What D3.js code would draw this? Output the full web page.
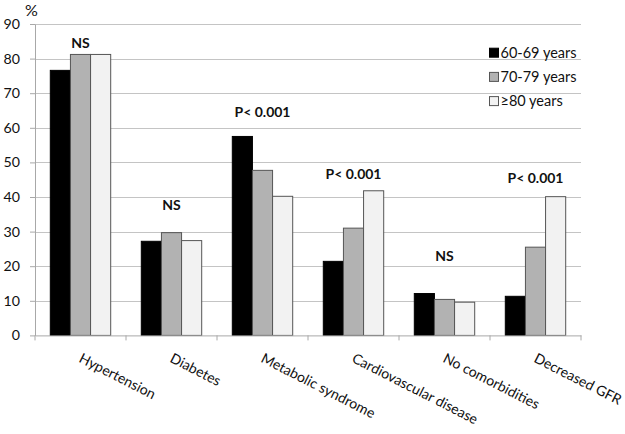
<!DOCTYPE html>
<html><head><meta charset="utf-8">
<script src="https://cdn.jsdelivr.net/npm/d3@7"></script>
<style>body{margin:0;background:#fff}svg{display:block}text{font-family:Lato,"Open Sans",sans-serif}</style>
</head><body><svg id="c" width="625" height="434"></svg>
<script>
const categories = ["Hypertension","Diabetes","Metabolic syndrome","Cardiovascular disease","No comorbidities","Decreased GFR"];
const seriesNames = ["60-69 years","70-79 years","\u226580 years"];
const s6069 = [76.6, 27.2, 57.5, 21.4, 12.1, 11.3];
const s7079 = [81.2, 29.7, 47.7, 31.0, 10.4, 25.5];
const s80 = [81.2, 27.4, 40.2, 41.8, 9.6, 40.1];
const annotations = ["NS","NS","P< 0.001","P< 0.001","NS","P< 0.001"];
const annotationY = [83.0, 36.2, 63.0, 45.2, 21.6, 44.0];
const yTicks = [0,10,20,30,40,50,60,70,80,90];

(function(){
const series = [s6069, s7079, s80];
const fills = ["#000000","#b2b2b2","#f2f2f2"];
const strokes = ["#000000","#555555","#555555"];

const svg = d3.select("#c");
const pL = 35, pR = 581, pT = 24, pB = 335.4;
const x = d3.scaleBand().domain(categories).range([pL, pR]).paddingInner(0).paddingOuter(0);
const inner = d3.scaleBand().domain([0,1,2]).range([0, x.bandwidth()]).paddingInner(0).paddingOuter(0.76);
const y = d3.scaleLinear().domain([0,90]).range([pB, pT]);

svg.append("g").selectAll("line").data(yTicks.filter(d=>d>0)).join("line")
  .attr("x1", pL).attr("x2", pR).attr("y1", d=>Math.round(y(d))+0.5).attr("y2", d=>Math.round(y(d))+0.5)
  .attr("stroke", "#c4c4c4").attr("stroke-width", 1);

const yAxis = svg.append("g").attr("transform", `translate(${pL},0)`)
  .call(d3.axisLeft(y).tickValues(yTicks).tickSize(5).tickPadding(10).tickSizeOuter(0));
yAxis.select(".domain").attr("stroke", "#a8a8a8");
yAxis.selectAll(".tick line").attr("stroke", "#a8a8a8");
yAxis.selectAll(".tick text").attr("font-size", 14.2).attr("fill", "#111").style("font-family","Lato,'Open Sans',sans-serif");

svg.append("text").attr("x", 25).attr("y", 15.5).attr("font-size", 16).attr("fill","#111").text("%");

const groups = svg.append("g").selectAll("g").data(categories).join("g")
  .attr("transform", d => `translate(${x(d)},0)`);
groups.selectAll("rect").data((d,i) => series.map((s,j)=>({j, v:s[i]}))).join("rect")
  .attr("x", d => inner(d.j)).attr("width", inner.bandwidth())
  .attr("y", d => y(d.v)).attr("height", d => y(0) - y(d.v))
  .attr("fill", d => fills[d.j]).attr("stroke", d => strokes[d.j]).attr("stroke-width", 1);

const xAxis = svg.append("g").attr("transform", `translate(0,${pB})`)
  .call(d3.axisBottom(x).tickSize(0).tickFormat(""));
xAxis.select(".domain").attr("stroke", "#a8a8a8");
xAxis.selectAll(".tick").remove();
const bounds = categories.map(c => x(c)).concat([pR]);
svg.append("g").selectAll("line").data(bounds).join("line")
  .attr("x1", d=>d).attr("x2", d=>d).attr("y1", pB).attr("y2", pB+5)
  .attr("stroke", "#a8a8a8");

const xl = svg.append("g").selectAll("text").data(categories).join("text")
  .attr("transform", d => `translate(${x(d)+x.bandwidth()/2-2.5},361.5) rotate(27)`)
  .attr("font-size", 15).attr("fill","#111").text(d=>d);
// fit font size so the longest label matches the reference span
const longest = xl.filter(d => d === "Cardiovascular disease").node();
const fs = 15 * 139 / longest.getComputedTextLength();
xl.attr("font-size", fs);

svg.append("g").selectAll("text").data(categories).join("text")
  .attr("x", d => x(d)+x.bandwidth()/2).attr("y", (d,i)=>y(annotationY[i]))
  .attr("text-anchor","middle").attr("font-size", 14).attr("font-weight","bold").attr("fill","#111").text((d,i)=>annotations[i]);

const lg = svg.append("g").selectAll("g").data(seriesNames).join("g")
  .attr("transform", (d,i)=>`translate(489,${52.7+i*24.2})`);
lg.append("rect").attr("x",0.5).attr("y",-4.5).attr("width",9).attr("height",9)
  .attr("fill",(d,i)=>fills[i]).attr("stroke",(d,i)=>strokes[i]);
lg.append("text").attr("x",11.5).attr("dy","0.35em").attr("font-size",14.5).attr("fill","#111").text(d=>d);
})();
</script></body></html>
